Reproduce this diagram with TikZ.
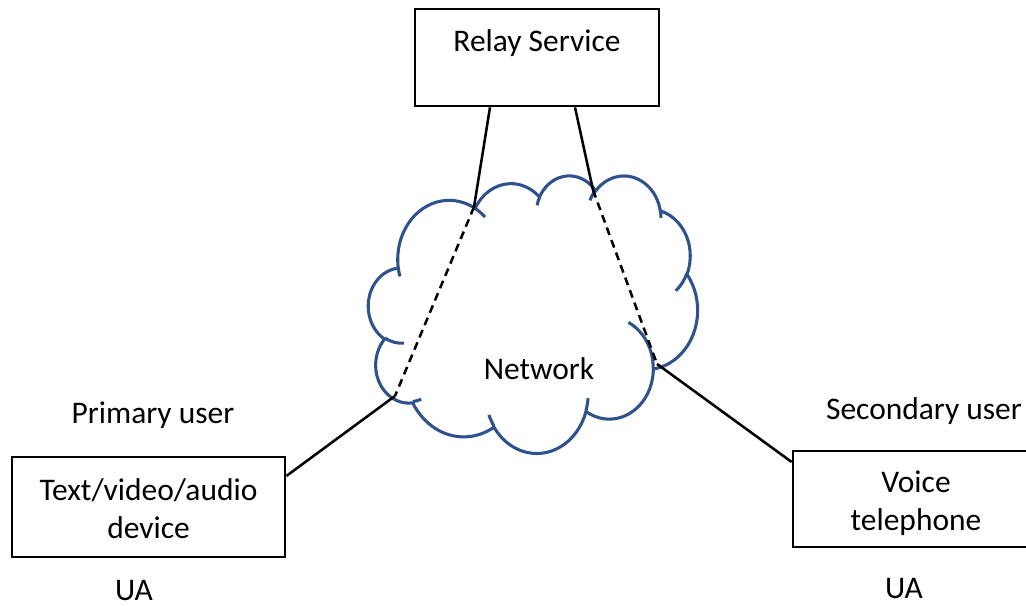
\documentclass[tikz,border=0pt]{standalone}
\usepackage{fontspec}
\setmainfont{Carlito}
\definecolor{cloudblue}{HTML}{2F528F}
% visual angle -> parametric angle of an ellipse
\newcommand\parang[3]{%
  \pgfmathparse{atan2((#1)*sin(#3),(#2)*cos(#3))}%
  \pgfmathparse{\pgfmathresult+360*round(((#3)-(\pgfmathresult))/360)}}
\newcommand\cloudarc[4]{%
  \pgfextra{\parang{#1}{#2}{#3}\global\let\cloudsa\pgfmathresult
    \pgfmathparse{(#3)+(#4)}\let\cloudend\pgfmathresult
    \parang{#1}{#2}{\cloudend}\global\let\cloudea\pgfmathresult}
  arc[start angle=\cloudsa,end angle=\cloudea,x radius=#1,y radius=#2]}
\tikzset{
  every node/.style={font=\fontsize{23.6}{28.5}\selectfont},
  devbox/.style={draw,line width=2pt,inner sep=0pt},
  cloudline/.style={draw=cloudblue,line width=2.3pt},
  link/.style={line width=1.9pt},
  hidden/.style={dash pattern=on 6pt off 4pt}
}
\begin{document}
\begin{tikzpicture}[x=0.75pt,y=0.75pt,yscale=-1]
\useasboundingbox (0,0) rectangle (1026,606);
%Shape: Cloud
\begin{scope}[shift={(368.5,175)},x=0.57118pt,y=0.48177pt]
\draw[cloudline,fill=white] (39,143.7)
  \cloudarc{67.53}{91.90}{-190.4875}{123.7805}
  \cloudarc{53.33}{72.67}{-144.1024}{89.9452}
  \cloudarc{43.65}{59.45}{-145.8079}{99.7230}
  \cloudarc{48.57}{65.95}{-130.9861}{117.2417}
  \cloudarc{53.33}{72.73}{-78.7089}{109.0269}
  \cloudarc{67.75}{92.20}{-46.2673}{130.2690}
  \cloudarc{57.85}{78.67}{0.6250}{114.0333}
  \cloudarc{67.52}{92.15}{22.4516}{115.1726}
  \cloudarc{77.20}{105.43}{66.2426}{75.7110}
  \cloudarc{43.60}{59.18}{-274.9421}{146.7356}
  \cloudarc{43.45}{59.45}{-246.8285}{152.5189} -- cycle;
\draw[cloudline]
  (46.93,261.77) \cloudarc{43.45}{59.45}{86.7420}{26.4295}
  (69.28,348.99) \cloudarc{43.60}{59.18}{73.6105}{11.4475}
  (164.78,390.90) \cloudarc{67.52}{92.15}{137.6242}{14.0811}
  (288.27,347.51) \cloudarc{67.52}{92.15}{6.4533}{15.9984}
  (341.29,229.54) \cloudarc{57.85}{78.67}{-70.2924}{70.9174}
  (417.98,153.54) \cloudarc{53.33}{72.73}{30.3180}{27.7515}
  (383.24,54.26) \cloudarc{48.57}{65.95}{-13.7443}{14.8589}
  (290.78,39.52) \cloudarc{48.57}{65.95}{-149.1815}{18.1954}
  (221.41,47.20) \cloudarc{43.65}{59.45}{-163.4943}{17.6864}
  (140.00,51.92) \cloudarc{67.53}{91.90}{-66.7070}{12.3194}
  (41.27,157.89) \cloudarc{67.53}{91.90}{157.6544}{11.8582};
\end{scope}
\node[anchor=base] (net) at (539,380) {Network};
%Shape: Rectangle
\node[devbox,anchor=base,minimum width=183pt,text height=32.25pt,text depth=40.5pt] (relay) at (537,52) {Relay Service};
\node[devbox,minimum width=204.75pt,minimum height=75pt] (dev) at (148.5,507) {};
\node[devbox,minimum width=195pt,minimum height=72pt] (phone) at (923,499) {};
\node[align=center] (devtext) at (148.5,509) {Text/video/audio\\device};
\node[align=center] (phonetext) at (916,503.5) {Voice\\telephone};
\node[anchor=base] (primary) at (153,423) {Primary user};
\node[anchor=base] (secondary) at (924,419) {Secondary user};
\node[anchor=base] (ualeft) at (134,600) {UA};
\node[anchor=base] (uaright) at (904,598) {UA};
% links through the network
\coordinate (lin) at (474,207);
\coordinate (lout) at (395,396);
\coordinate (rin) at (593,190);
\coordinate (rout) at (657,364);
\draw[link] ([xshift=-35.25pt]relay.south) -- (lin);
\draw[link,hidden] (lin) -- (lout);
\draw[link] (lout) -- ([yshift=-23.25pt]dev.east);
\draw[link] ([xshift=28.5pt]relay.south) -- (rin);
\draw[link,hidden] (rin) -- (rout);
\draw[link] (rout) -- ([yshift=-27.75pt]phone.west);
\end{tikzpicture}
\end{document}
